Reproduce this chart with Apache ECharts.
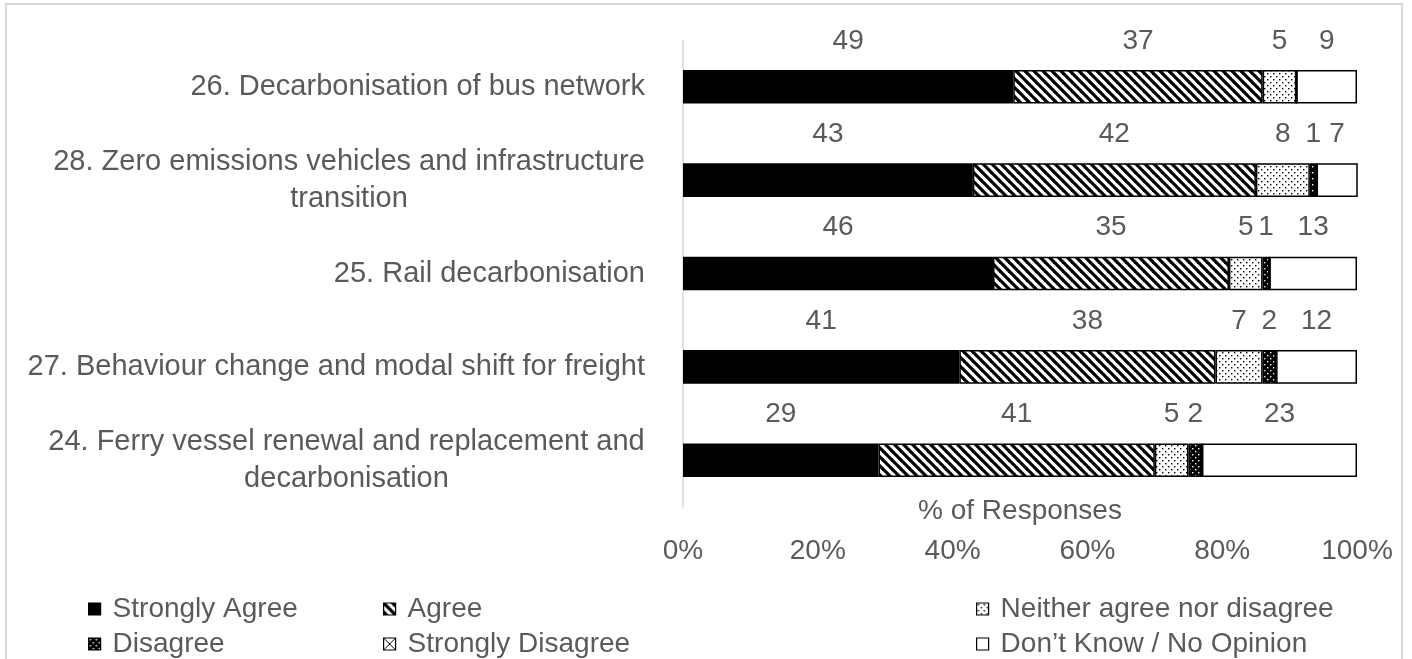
<!DOCTYPE html>
<html>
<head>
<meta charset="utf-8">
<script src="https://cdn.jsdelivr.net/npm/echarts@6/dist/echarts.min.js"></script>
<style>
  html, body { margin: 0; padding: 0; background: #fff; }
  #wrap { position: relative; width: 1412px; height: 659px; overflow: hidden; }
  #chart { width: 1412px; height: 659px; }
  #frame { position: absolute; left: 5px; top: 3px; width: 1398px; height: 700px;
           border: 2px solid #d9d9d9; box-sizing: border-box; pointer-events: none; }
</style>
</head>
<body>
<div id="wrap"><div id="chart"></div><div id="frame"></div></div>
<script>
// Survey statements (top to bottom) and response shares in percent
const categories = [
  '26. Decarbonisation of bus network',
  '28. Zero emissions vehicles and infrastructure\ntransition',
  '25. Rail decarbonisation',
  '27. Behaviour change and modal shift for freight',
  '24. Ferry vessel renewal and replacement and\ndecarbonisation'
];
const seriesNames = [
  'Strongly Agree',
  'Agree',
  'Neither agree nor disagree',
  'Disagree',
  'Strongly Disagree',
  'Don\u2019t Know / No Opinion'
];
const stronglyAgree    = [49, 43, 46, 41, 29];
const agree            = [37, 42, 35, 38, 41];
const neither          = [5, 8, 5, 7, 5];
const disagree         = [0, 1, 1, 2, 2];
const stronglyDisagree = [0, 0, 0, 0, 0];
const dontKnow         = [9, 7, 13, 12, 23];
const tickLabels = ['0%', '20%', '40%', '60%', '80%', '100%'];
const axisTitle = '% of Responses';

const FONT = '"Liberation Sans", Arial, sans-serif';
const TEXT = '#5a5a5a';
const CAT_SIZE = 29;
const TXT_SIZE = 28;

// ---- fill patterns drawn on small canvases ----
function tile(size, draw) {
  const c = document.createElement('canvas');
  c.width = size; c.height = size;
  const g = c.getContext('2d');
  draw(g, size);
  return { image: c, repeat: 'repeat' };
}
const solidBlack = '#000000';
const stripes = tile(9, (g, s) => {
  g.fillStyle = '#fff'; g.fillRect(0, 0, s, s);
  g.strokeStyle = '#000'; g.lineWidth = 3.2;
  for (let k = -1; k <= 1; k++) {
    g.beginPath(); g.moveTo(k * s - 1, -1); g.lineTo(k * s + s + 1, s + 1); g.stroke();
  }
});
const lightDots = tile(6, (g, s) => {
  g.fillStyle = '#fff'; g.fillRect(0, 0, s, s);
  g.fillStyle = '#000';
  g.fillRect(1, 1, 1.4, 1.4); g.fillRect(4, 4, 1.4, 1.4);
});
const darkDots = tile(6, (g, s) => {
  g.fillStyle = '#000'; g.fillRect(0, 0, s, s);
  g.fillStyle = '#fff';
  g.fillRect(1, 1, 1.4, 1.4); g.fillRect(4, 4, 1.4, 1.4);
});
const crossed = tile(12, (g, s) => {
  g.fillStyle = '#fff'; g.fillRect(0, 0, s, s);
  g.strokeStyle = '#000'; g.lineWidth = 1;
  g.beginPath(); g.moveTo(0, 0); g.lineTo(s, s); g.moveTo(s, 0); g.lineTo(0, s); g.stroke();
});
const plainWhite = '#ffffff';

const fills = [solidBlack, stripes, lightDots, darkDots, crossed, plainWhite];
const values = [stronglyAgree, agree, neither, disagree, stronglyDisagree, dontKnow];

// ---- wrapped category labels: second line centred under the first ----
const measurer = document.createElement('canvas').getContext('2d');
measurer.font = CAT_SIZE + 'px ' + FONT;
const rich = {};
categories.forEach((c, i) => {
  const lines = c.split('\n');
  const w = Math.max(...lines.map(l => measurer.measureText(l).width));
  rich['l' + i] = { width: Math.ceil(w), align: 'center', fontSize: CAT_SIZE,
                    fontFamily: FONT, color: TEXT, lineHeight: 37 };
});

const series = seriesNames.map((name, si) => ({
  name,
  type: 'bar',
  stack: 'total',
  barWidth: '36%',
  data: values[si],
  itemStyle: { color: fills[si], borderColor: '#000', borderWidth: 1.5 },
  label: {
    show: true,
    position: 'top',
    distance: 15,
    fontFamily: FONT,
    fontSize: TXT_SIZE,
    color: TEXT,
    formatter: p => (p.value > 0 ? String(p.value) : '')
  },
  emphasis: { disabled: true }
}));

// Legend: three columns of two entries each, one legend box per entry
const legendColumns = [88, 383, 976];
const legendRows = [595, 630];
const legendOrder = [[0, 3], [1, 4], [2, 5]];
const legends = [];
legendOrder.forEach((col, ci) => {
  col.forEach((si, ri) => {
    legends.push({
      left: legendColumns[ci],
      top: legendRows[ri],
      padding: 0,
      itemWidth: 12,
      itemHeight: 12,
      icon: 'rect',
      selectedMode: false,
      data: [seriesNames[si]],
      itemStyle: { borderColor: '#000', borderWidth: 1.2 },
      textStyle: { fontFamily: FONT, fontSize: TXT_SIZE, color: TEXT, padding: [0, 0, 0, 7] }
    });
  });
});

const chart = echarts.init(document.getElementById('chart'), null, { renderer: 'canvas' });
chart.setOption({
  animation: false,
  backgroundColor: '#ffffff',
  grid: { left: 683, right: 55, top: 40, bottom: 152, containLabel: false,
          outerBoundsMode: 'none' },
  legend: legends,
  xAxis: {
    type: 'value',
    min: 0,
    max: 100,
    interval: 20,
    name: axisTitle,
    nameLocation: 'middle',
    nameGap: -10,
    nameMoveOverlap: false,
    nameTextStyle: { fontFamily: FONT, fontSize: TXT_SIZE, color: TEXT, verticalAlign: 'top' },
    axisLine: { show: false },
    axisTick: { show: false },
    splitLine: { show: false },
    axisLabel: {
      margin: 30,
      fontFamily: FONT,
      fontSize: TXT_SIZE,
      color: TEXT,
      formatter: v => tickLabels[Math.round(v / 20)]
    }
  },
  yAxis: {
    type: 'category',
    inverse: true,
    data: categories,
    axisLine: { show: true, lineStyle: { color: '#d9d9d9', width: 1.5 } },
    axisTick: { show: false },
    axisLabel: {
      margin: 38,
      fontFamily: FONT,
      fontSize: CAT_SIZE,
      color: TEXT,
      lineHeight: 37,
      rich,
      formatter: (v, i) => {
        const lines = v.split('\n');
        if (lines.length === 1) return v;
        return lines.map(l => '{l' + i + '|' + l + '}').join('\n');
      }
    }
  },
  series
});
</script>
</body>
</html>
